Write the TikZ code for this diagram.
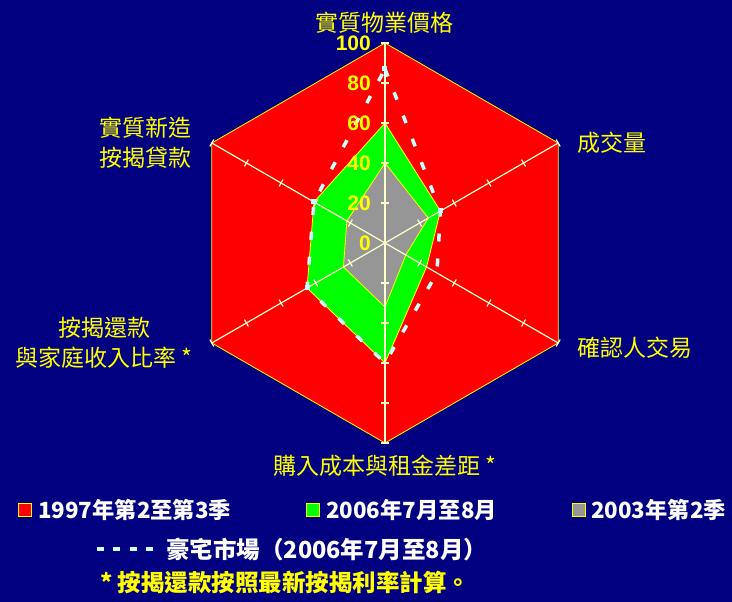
\documentclass[tikz,border=0pt]{standalone}
\usepackage{fontspec}
\setmainfont{Noto Sans CJK TC}
\newfontfamily\numfont{Liberation Sans}
\usetikzlibrary{positioning}

\definecolor{navybg}{RGB}{0,0,128}
\definecolor{chartyellow}{RGB}{255,255,0}
\definecolor{spokecream}{RGB}{255,255,204}
\definecolor{luxcyan}{RGB}{204,255,255}
\definecolor{greyarea}{RGB}{150,150,150}

\tikzset{
  axislabel/.style={text=chartyellow, inner sep=0pt, align=center, font=\fontsize{23}{30}\selectfont},
  ticklabel/.style={text=chartyellow, inner sep=0pt, anchor=east, font=\numfont\bfseries\fontsize{21}{21}\selectfont},
  area/.style={draw=chartyellow, line width=0.8pt},
  spoke/.style={draw=spokecream, line width=1.2pt},
  luxline/.style={draw=luxcyan, line width=3.5pt, dash pattern=on 8pt off 17pt},
  keybox/.style={draw=chartyellow, line width=1pt, minimum size=13pt, inner sep=0pt},
  keytext/.style={text=white, inner sep=0pt, font=\bfseries\fontsize{23.5}{23.5}\selectfont},
  rowtext/.style={keytext, font=\bfseries\fontsize{22.3}{22.3}\selectfont},
}

\begin{document}
\begin{tikzpicture}[x=1pt, y=1pt]
  \fill[navybg] (-385,-359) rectangle (347,243);
  \useasboundingbox (-385,-359) rectangle (347,243);

  %Define nodes
  \coordinate (o) at (0,0);
  \foreach \i in {1,...,6}
    \coordinate (v\i) at ({150-60*\i}:200);
  \foreach \v [count=\i] in {60,32,24,60,45,41}
    \coordinate (g\i) at ({150-60*\i}:{2*\v});
  \foreach \v [count=\i] in {40,25,12,32,24,22}
    \coordinate (s\i) at ({150-60*\i}:{2*\v});
  \foreach \v [count=\i] in {87,32,30,60,45,41}
    \coordinate (h\i) at ({150-60*\i}:{2*\v});

  % Areas
  \filldraw[area, fill=red] (v1) -- (v2) -- (v3) -- (v4) -- (v5) -- (v6) -- cycle;
  \filldraw[area, fill=green] (g1) -- (g2) -- (g3) -- (g4) -- (g5) -- (g6) -- cycle;
  \filldraw[area, fill=greyarea] (s1) -- (s2) -- (s3) -- (s4) -- (s5) -- (s6) -- cycle;

  % Spokes and ticks
  \foreach \i in {1,...,6} {
    \draw[spoke] (o) -- (v\i);
    \foreach \t in {20,40,...,100}
      \draw[spoke, rotate={150-60*\i}] (2*\t,-4) -- (2*\t,4);
  }

  % Luxury market line
  \draw[luxline] (h1) -- (h2) -- (h3) -- (h4) -- (h5) -- (h6) -- cycle;
  \foreach \i in {1,2,5,6}
    \fill[luxcyan] (h\i) +(-2.5,-2.5) rectangle +(2.5,2.5);

  \foreach \t in {0,20,...,100}
    \node[ticklabel] (n\t) at (-14,2*\t) {\t};

  % Axis labels
  \node[axislabel, above=9pt of v1] (price) {實質物業價格};
  \node[axislabel, right=19pt of v2] (volume) {成交量};
  \node[axislabel, right=19pt of v3, yshift=-5pt] (confirm) {確認人交易};
  \node[axislabel, below=12pt of v4] (gap) {購入成本與租金差距 *};
  \node[axislabel, left=19pt of v5] (repay) {按揭還款\\與家庭收入比率 *};
  \node[axislabel, left=20pt of v6] (loans) {實質新造\\按揭貸款};

  % Legend
  \node[keybox, fill=red] (key97) at (-360,-267) {};
  \node[rowtext, right=6pt of key97] (txt97) {1997年第2至第3季};
  \node[keybox, fill=green] (key06) at (-72,-267) {};
  \node[rowtext, right=6pt of key06] (txt06) {2006年7月至8月};
  \node[keybox, fill=greyarea] (key03) at (194,-267) {};
  \node[rowtext, right=5pt of key03] (txt03) {2003年第2季};
  \coordinate (dashA) at (-288,-306);
  \coordinate (dashB) at (-232,-306);
  \draw[luxline, line width=4pt, dash pattern=on 7pt off 9.5pt] (dashA) -- (dashB);
  \node[keytext, right=13pt of dashB] (luxtxt) {豪宅市場（2006年7月至8月）};
  \node[keytext, text=chartyellow, anchor=west] (note) at (-285,-339) {* 按揭還款按照最新按揭利率計算。};
\end{tikzpicture}
\end{document}
